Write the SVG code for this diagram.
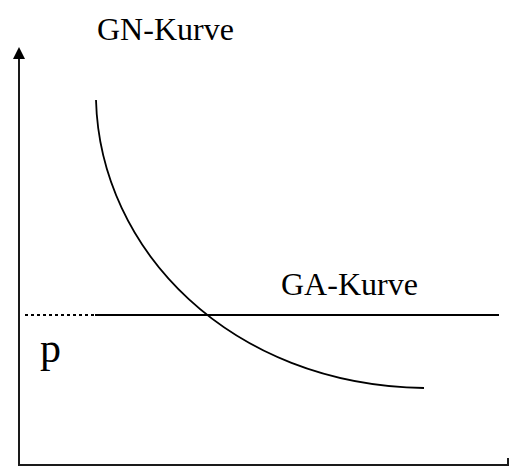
<svg xmlns="http://www.w3.org/2000/svg" width="510" height="468" viewBox="0 0 510 468">
<style>
.ax{stroke:#1a1a1a;stroke-width:2;fill:none}
.ln{stroke:#000;stroke-width:2;fill:none}
.cv{stroke:#000;stroke-width:1.8;fill:none}
.t{font-family:"Liberation Serif","Times New Roman",serif;fill:#000}
</style>
<g id="axes">
<line class="ax" x1="19" y1="466" x2="19" y2="58"/>
<path d="M13,59 L19,47 L25,59 Z" fill="#000"/>
<polyline class="ax" points="19,465 508,465 508,458"/>
</g>
<g id="connectors">
<line x1="25" y1="315" x2="95" y2="315" stroke="#000" stroke-width="2" stroke-dasharray="3,3"/>
<line class="ln" x1="95" y1="315" x2="499" y2="315"/>
<path class="cv" d="M96,100 C100,250 230,385 424,388"/>
</g>
<g id="GN"><text class="t" x="97" y="40" font-size="32">GN-Kurve</text></g>
<g id="GA"><text class="t" x="281" y="295" font-size="32">GA-Kurve</text></g>
<g id="p"><text class="t" x="40" y="362" font-size="42">p</text></g>
</svg>
